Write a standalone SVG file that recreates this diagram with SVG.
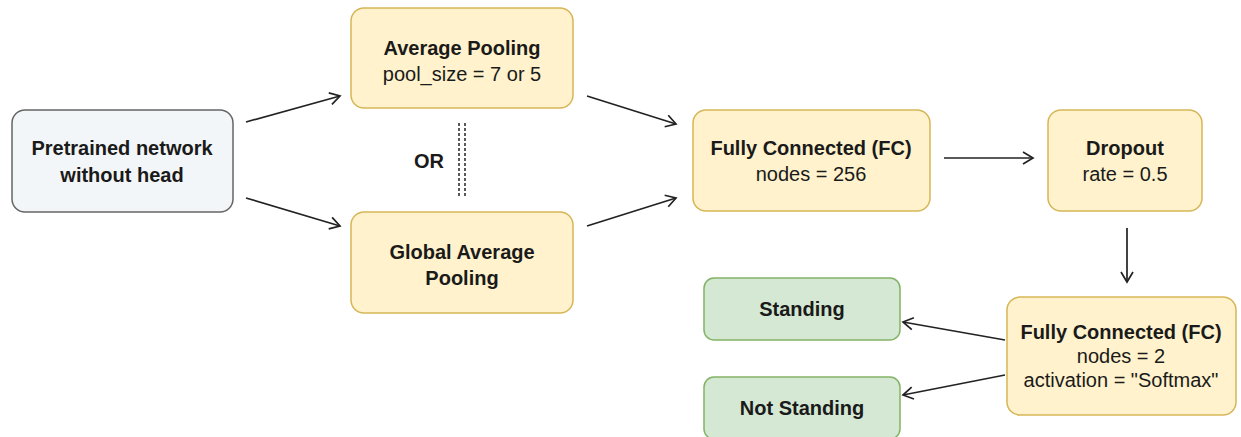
<svg xmlns="http://www.w3.org/2000/svg" width="1241" height="437" viewBox="0 0 1241 437">
<style>
.y{fill:#fff2cc;stroke:#d6b656;stroke-width:1.5}
.g{fill:#d5e8d4;stroke:#82b366;stroke-width:1.5}
.n{fill:#f3f6f8;stroke:#666;stroke-width:1.5}
text{font-family:"Liberation Sans",Arial,sans-serif;font-size:20px;fill:#1a1a1a;text-anchor:middle}
.b{font-weight:bold}
.c{stroke:#222;stroke-width:1.7;fill:none;marker-end:url(#a)}
</style>
<defs>
<marker id="a" markerWidth="14" markerHeight="14" refX="11" refY="7" orient="auto" markerUnits="userSpaceOnUse">
<path d="M1,1 L11,7 L1,13" fill="none" stroke="#222" stroke-width="1.7"/>
</marker>
</defs>
<rect width="1241" height="437" fill="#fff"/>
<g id="pretrained"><rect class="n" x="12" y="110" width="221" height="102" rx="13"/>
<text class="b" x="122" y="155">Pretrained network</text><text class="b" x="122" y="182">without head</text></g>
<g id="avgpool"><rect class="y" x="351" y="8" width="222" height="100" rx="13"/>
<text class="b" x="462" y="55">Average Pooling</text><text x="462" y="81">pool_size = 7 or 5</text></g>
<g id="gap"><rect class="y" x="351" y="212" width="222" height="101" rx="13"/>
<text class="b" x="462" y="259">Global Average</text><text class="b" x="462" y="285">Pooling</text></g>
<g id="or"><text class="b" x="429" y="168">OR</text>
<line x1="459" y1="123" x2="459" y2="198" stroke="#222" stroke-width="1.5" stroke-dasharray="3,2"/>
<line x1="465" y1="123" x2="465" y2="198" stroke="#222" stroke-width="1.5" stroke-dasharray="3,2"/></g>
<g id="fc1"><rect class="y" x="693" y="110" width="237" height="101" rx="13"/>
<text class="b" x="811" y="155">Fully Connected (FC)</text><text x="811" y="181">nodes = 256</text></g>
<g id="dropout"><rect class="y" x="1048" y="110" width="154" height="101" rx="13"/>
<text class="b" x="1125" y="155">Dropout</text><text x="1125" y="181">rate = 0.5</text></g>
<g id="fc2"><rect class="y" x="1007" y="297" width="229" height="118" rx="13"/>
<text class="b" x="1121" y="339">Fully Connected (FC)</text><text x="1121" y="363">nodes = 2</text><text x="1121" y="387">activation = "Softmax"</text></g>
<g id="standing"><rect class="g" x="704" y="278" width="196" height="62" rx="10"/>
<text class="b" x="802" y="316">Standing</text></g>
<g id="notstanding"><rect class="g" x="704" y="377" width="196" height="62" rx="10"/>
<text class="b" x="802" y="415">Not Standing</text></g>
<g id="connectors">
<line class="c" x1="246" y1="122" x2="340" y2="96"/>
<line class="c" x1="246" y1="198" x2="340" y2="226"/>
<line class="c" x1="587" y1="96" x2="676" y2="124"/>
<line class="c" x1="587" y1="226" x2="676" y2="198"/>
<line class="c" x1="944" y1="158" x2="1033" y2="158"/>
<line class="c" x1="1127" y1="228" x2="1127" y2="282"/>
<line class="c" x1="1005" y1="340" x2="903" y2="322"/>
<line class="c" x1="1005" y1="375" x2="903" y2="395"/>
</g>
</svg>
